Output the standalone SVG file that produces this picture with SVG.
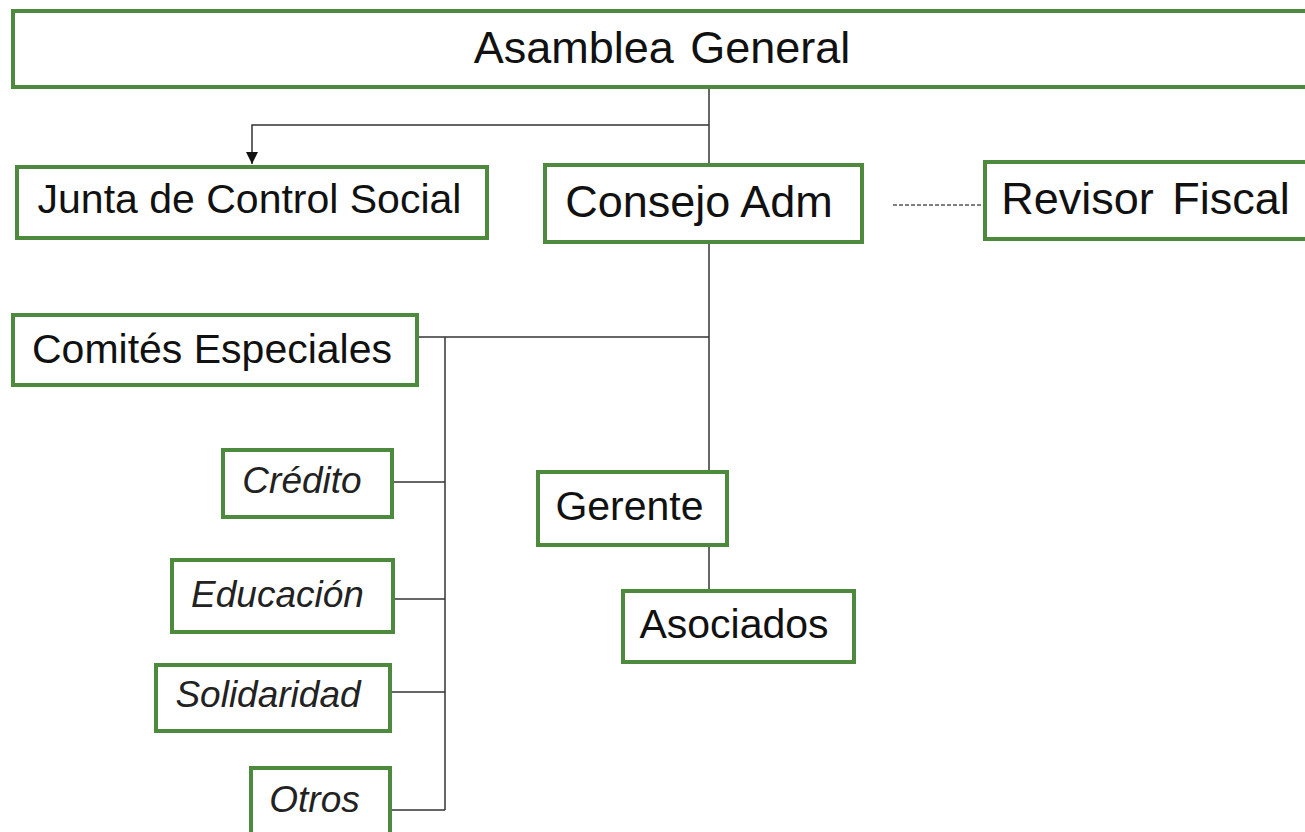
<svg xmlns="http://www.w3.org/2000/svg" width="1305" height="832" viewBox="0 0 1305 832">
<defs>
<style>
.box{fill:#fff;stroke:#4E8A3E;stroke-width:4}
.t{font-family:"Liberation Sans",Arial,sans-serif;fill:#111;text-anchor:middle}
.n{font-size:41px}
.b{font-size:45px}
.i{font-size:37px;font-style:italic;fill:#222}
.c{fill:none;stroke:#333;stroke-width:1.5}
.d{fill:none;stroke:#555;stroke-width:1.3;stroke-dasharray:4 2}
</style>
<marker id="arr" viewBox="0 0 10 10" refX="10" refY="5" markerWidth="12" markerHeight="12" markerUnits="userSpaceOnUse" orient="auto">
<path d="M0,0 L10,5 L0,10 z" fill="#111"/>
</marker>
</defs>
<rect width="1305" height="832" fill="#fff"/>
<g id="connectors">
<line class="c" x1="709" y1="87" x2="709" y2="165"/>
<polyline class="c" points="709,125 252,125 252,164" marker-end="url(#arr)"/>
<line class="d" x1="893" y1="205" x2="985" y2="205"/>
<line class="c" x1="709" y1="242" x2="709" y2="472"/>
<line class="c" x1="417" y1="337" x2="709" y2="337"/>
<line class="c" x1="445" y1="337" x2="445" y2="810"/>
<line class="c" x1="394" y1="482" x2="445" y2="482"/>
<line class="c" x1="395" y1="599" x2="445" y2="599"/>
<line class="c" x1="392" y1="692" x2="445" y2="692"/>
<line class="c" x1="392" y1="810" x2="445" y2="810"/>
<line class="c" x1="709" y1="545" x2="709" y2="591"/>
</g>
<g id="asamblea"><rect class="box" x="13" y="11" width="1310" height="76"/><text class="t b" x="662" y="63" word-spacing="4">Asamblea General</text></g>
<g id="junta"><rect class="box" x="17" y="167" width="470" height="71"/><text class="t n" x="249.5" y="213">Junta de Control Social</text></g>
<g id="consejo"><rect class="box" x="545" y="165" width="317" height="77"/><text class="t b" x="699" y="217" font-size="44">Consejo Adm</text></g>
<g id="revisor"><rect class="box" x="985" y="162" width="330" height="77"/><text class="t b" x="1145.5" y="214" font-size="44" word-spacing="6">Revisor Fiscal</text></g>
<g id="comites"><rect class="box" x="13" y="315" width="404" height="70"/><text class="t n" x="212" y="363">Comités Especiales</text></g>
<g id="credito"><rect class="box" x="223" y="450" width="169" height="67"/><text class="t i" x="302" y="493">Crédito</text></g>
<g id="educacion"><rect class="box" x="172" y="560" width="221" height="72"/><text class="t i" x="277.5" y="607">Educación</text></g>
<g id="solidaridad"><rect class="box" x="156" y="665" width="234" height="66"/><text class="t i" x="268" y="707">Solidaridad</text></g>
<g id="otros"><rect class="box" x="251" y="768" width="139" height="70"/><text class="t i" x="314.5" y="812">Otros</text></g>
<g id="gerente"><rect class="box" x="538" y="472" width="189" height="73"/><text class="t n" x="629.5" y="520">Gerente</text></g>
<g id="asociados"><rect class="box" x="623" y="591" width="231" height="71"/><text class="t n" x="734" y="638">Asociados</text></g>
</svg>
